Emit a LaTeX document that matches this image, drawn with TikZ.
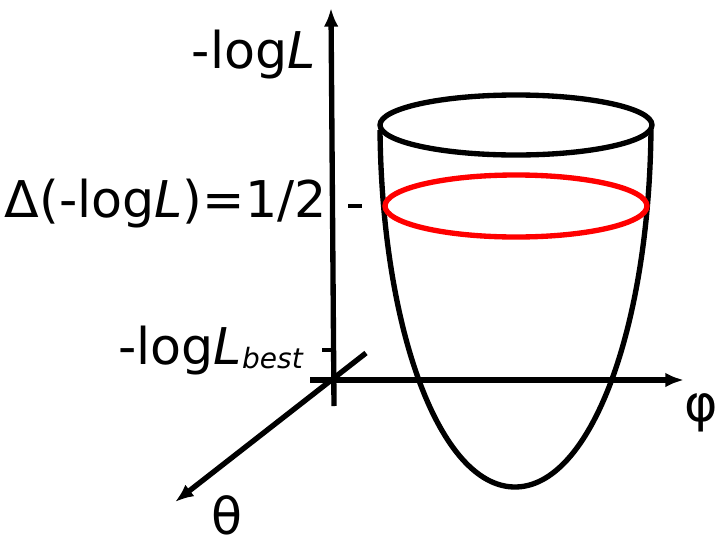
\documentclass[tikz,border=0pt]{standalone}
\usepackage{fontspec}
\setmainfont{DejaVu Sans}
\usetikzlibrary{arrows.meta}

\begin{document}
\begin{tikzpicture}[
  x=0.75pt, y=-0.75pt,
  % ---- Lines ----
  axis/.style={line width=4pt, -{Latex[length=14pt, width=11pt]}},
  tick/.style={line width=3.6pt},
  bowl/.style={line width=4pt},
  level/.style={line width=4pt, draw=red},
  % ---- Labels ----
  lab/.style={font=\fontsize{38}{45}\selectfont, inner sep=0pt}
]
\useasboundingbox (0,0) rectangle (719,547);

% ===== Axes (pixel coordinates, y downwards) =====
\coordinate (ybot)  at (334,406);
\coordinate (ytop)  at (331,8);
\coordinate (xleft) at (310,380);
\coordinate (xtip)  at (684,380);
\coordinate (tback) at (366,353);
\coordinate (ttip)  at (175,502);

\draw[axis] (ybot) -- (ytop);
\draw[axis] (xleft) -- (xtip);
\draw[axis] (tback) -- (ttip);

% ticks
\draw[tick] (348,206) -- (362,206);
\draw[tick] (322,350) -- (333,350);

% ===== Bowl =====
\draw[bowl] (380,130) .. controls (382,330) and (440,487) .. (515,487)
            .. controls (590,487) and (649,330) .. (651,130);
\draw[bowl]  (516,125) ellipse [x radius=136, y radius=30];
\draw[level] (516,206) ellipse [x radius=131, y radius=31];

% ===== Labels =====
\node[lab, anchor=base east] (nll)  at (316,68)  {-log\textit{L}};
\node[lab, anchor=base east] (dnll) at (327,217) {Δ(-log\textit{L})=1/2};
\node[lab, anchor=base east] (best) at (303,364)
  {-log\textit{L}\raisebox{-3pt}{\fontsize{21}{25}\selectfont\itshape best}};
\node[lab] (phi)   at (701,413) {φ};
\node[lab] (theta) at (227,515) {θ};

\end{tikzpicture}
\end{document}
